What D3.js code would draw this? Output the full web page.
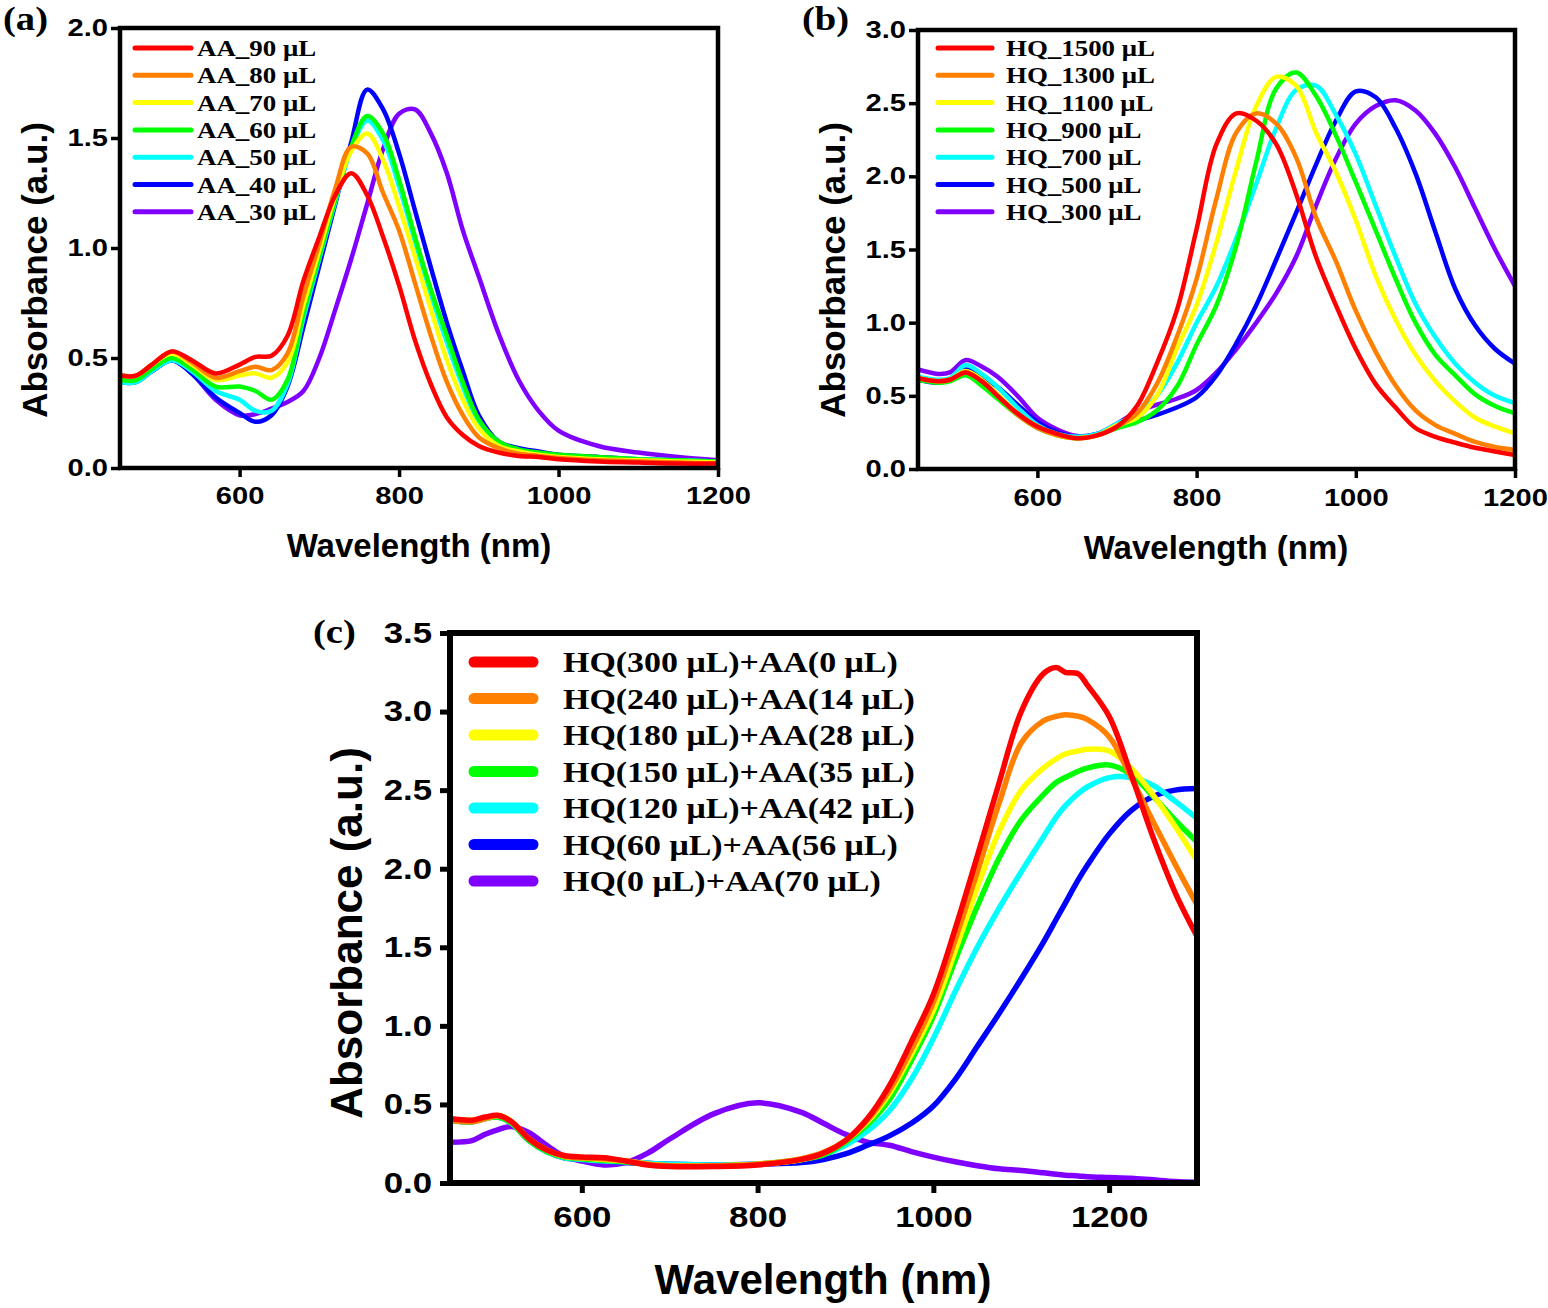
<!DOCTYPE html>
<html><head><meta charset="utf-8">
<script src="https://cdn.jsdelivr.net/npm/d3@7"></script>
<style>body{margin:0;background:#fff;} svg{display:block;background:#fff;}</style>
</head><body><svg id="fig" width="1548" height="1308"></svg>
<script>
// ---------- DATA ----------
const seriesColors = ["#ff0000","#ff8000","#ffff00","#00ff00","#00ffff","#0000ff","#8000ff"];

// Panel (a): AA series
const aWavelength = [450,470,490,515,540,570,600,620,640,660,680,700,720,740,760,780,800,820,840,860,880,900,925,950,975,1000,1050,1100,1150,1200];
const aLabels = ["AA_90 μL","AA_80 μL","AA_70 μL","AA_60 μL","AA_50 μL","AA_40 μL","AA_30 μL"];
const aAA90 = [0.42,0.42,0.47,0.53,0.49,0.43,0.47,0.505,0.51,0.60,0.85,1.05,1.24,1.34,1.24,1.05,0.83,0.58,0.38,0.23,0.15,0.10,0.07,0.055,0.05,0.04,0.03,0.025,0.02,0.02];
const aAA80 = [0.42,0.42,0.47,0.53,0.48,0.41,0.44,0.46,0.445,0.52,0.78,1.02,1.27,1.46,1.43,1.25,1.08,0.84,0.60,0.39,0.24,0.14,0.09,0.065,0.055,0.045,0.035,0.03,0.025,0.02];
const aAA70 = [0.42,0.42,0.47,0.52,0.47,0.40,0.42,0.43,0.41,0.48,0.74,0.99,1.24,1.44,1.52,1.40,1.19,0.96,0.72,0.49,0.31,0.18,0.10,0.075,0.06,0.05,0.04,0.035,0.03,0.025];
const aAA60 = [0.40,0.40,0.45,0.50,0.45,0.37,0.37,0.35,0.31,0.40,0.70,0.96,1.22,1.46,1.60,1.52,1.31,1.05,0.81,0.60,0.39,0.22,0.12,0.085,0.07,0.06,0.05,0.04,0.035,0.03];
const aAA50 = [0.39,0.39,0.44,0.49,0.44,0.35,0.31,0.26,0.26,0.38,0.68,0.95,1.21,1.45,1.58,1.49,1.28,1.03,0.79,0.57,0.37,0.21,0.11,0.08,0.065,0.055,0.045,0.04,0.035,0.03];
const aAA40 = [0.39,0.39,0.44,0.49,0.43,0.32,0.25,0.21,0.24,0.37,0.64,0.92,1.20,1.48,1.72,1.63,1.43,1.17,0.91,0.66,0.44,0.24,0.12,0.09,0.075,0.06,0.05,0.04,0.035,0.03];
const aAA30 = [0.40,0.40,0.44,0.49,0.43,0.31,0.24,0.245,0.27,0.30,0.35,0.50,0.72,0.95,1.20,1.45,1.61,1.63,1.52,1.34,1.08,0.87,0.61,0.40,0.26,0.17,0.10,0.07,0.05,0.035];
const aYTicks = [0,0.5,1.0,1.5,2.0];
const aXTicks = [600,800,1000,1200];

// Panel (b): HQ series
const bWavelength = [450,475,490,510,530,550,575,600,625,650,675,700,725,750,775,800,825,850,875,900,925,950,975,1000,1025,1050,1075,1100,1125,1150,1175,1200];
const bLabels = ["HQ_1500 μL","HQ_1300 μL","HQ_1100 μL","HQ_900 μL","HQ_700 μL","HQ_500 μL","HQ_300 μL"];
const bHQ1500 = [0.62,0.60,0.61,0.66,0.60,0.50,0.38,0.29,0.24,0.21,0.23,0.29,0.43,0.72,1.08,1.64,2.22,2.43,2.38,2.22,1.88,1.45,1.12,0.82,0.58,0.42,0.28,0.22,0.18,0.145,0.12,0.095];
const bHQ1300 = [0.62,0.60,0.61,0.66,0.60,0.50,0.37,0.28,0.23,0.21,0.23,0.29,0.38,0.58,0.90,1.30,1.85,2.30,2.43,2.36,2.13,1.72,1.42,1.08,0.80,0.57,0.40,0.30,0.24,0.185,0.15,0.13];
const bHQ1100 = [0.62,0.60,0.61,0.67,0.61,0.51,0.38,0.29,0.23,0.21,0.23,0.30,0.35,0.50,0.82,1.12,1.55,2.05,2.48,2.68,2.62,2.30,2.03,1.70,1.32,1.02,0.78,0.60,0.46,0.35,0.29,0.245];
const bHQ900 = [0.61,0.59,0.60,0.64,0.57,0.48,0.37,0.28,0.23,0.21,0.23,0.28,0.32,0.40,0.56,0.85,1.12,1.53,2.10,2.60,2.71,2.55,2.28,1.96,1.63,1.30,1.00,0.78,0.64,0.51,0.43,0.38];
const bHQ700 = [0.63,0.61,0.62,0.71,0.65,0.56,0.42,0.30,0.24,0.22,0.24,0.31,0.38,0.50,0.72,1.00,1.25,1.58,1.95,2.33,2.59,2.62,2.42,2.15,1.80,1.45,1.13,0.90,0.72,0.59,0.50,0.45];
const bHQ500 = [0.61,0.59,0.61,0.68,0.63,0.56,0.44,0.32,0.25,0.22,0.24,0.29,0.33,0.37,0.42,0.49,0.64,0.86,1.12,1.43,1.75,2.08,2.38,2.58,2.54,2.33,2.02,1.62,1.23,0.98,0.82,0.72];
const bHQ300 = [0.68,0.65,0.66,0.745,0.70,0.63,0.50,0.35,0.27,0.225,0.24,0.31,0.39,0.44,0.48,0.54,0.66,0.82,1.00,1.20,1.45,1.80,2.12,2.36,2.48,2.52,2.45,2.29,2.06,1.78,1.50,1.25];
const bYTicks = [0,0.5,1.0,1.5,2.0,2.5,3.0];
const bXTicks = [600,800,1000,1200];

// Panel (c): HQ + AA mixtures
const cWavelength = [450,475,490,505,520,540,560,580,600,625,650,675,700,750,800,850,875,900,925,950,975,1000,1025,1050,1075,1100,1125,1140,1150,1165,1175,1200,1225,1250,1275,1300];
const cLabels = ["HQ(300 μL)+AA(0 μL)","HQ(240 μL)+AA(14 μL)","HQ(180 μL)+AA(28 μL)","HQ(150 μL)+AA(35 μL)","HQ(120 μL)+AA(42 μL)","HQ(60 μL)+AA(56 μL)","HQ(0 μL)+AA(70 μL)"];
const cHQ300AA0 = [0.41,0.40,0.42,0.43,0.39,0.28,0.21,0.175,0.165,0.16,0.14,0.115,0.105,0.105,0.115,0.15,0.19,0.27,0.41,0.62,0.90,1.20,1.62,2.08,2.55,3.00,3.24,3.28,3.25,3.24,3.17,2.97,2.60,2.20,1.85,1.57];
const cHQ240AA14 = [0.40,0.39,0.41,0.43,0.39,0.28,0.21,0.17,0.16,0.155,0.14,0.12,0.11,0.11,0.12,0.155,0.195,0.27,0.40,0.59,0.85,1.15,1.55,1.98,2.42,2.80,2.94,2.97,2.98,2.97,2.95,2.84,2.58,2.30,2.03,1.77];
const cHQ180AA28 = [0.40,0.40,0.41,0.43,0.39,0.28,0.21,0.17,0.16,0.15,0.14,0.12,0.11,0.11,0.12,0.15,0.19,0.27,0.39,0.57,0.82,1.10,1.48,1.88,2.24,2.50,2.64,2.70,2.73,2.75,2.76,2.75,2.64,2.47,2.27,2.05];
const cHQ150AA35 = [0.40,0.39,0.41,0.42,0.38,0.27,0.20,0.165,0.155,0.145,0.135,0.12,0.11,0.11,0.12,0.15,0.18,0.26,0.37,0.53,0.78,1.06,1.42,1.76,2.07,2.31,2.47,2.55,2.58,2.62,2.64,2.66,2.60,2.46,2.31,2.17];
const cHQ120AA42 = [0.40,0.39,0.41,0.42,0.38,0.27,0.20,0.16,0.15,0.14,0.135,0.125,0.12,0.115,0.12,0.15,0.18,0.24,0.33,0.46,0.66,0.92,1.22,1.50,1.75,1.98,2.20,2.33,2.40,2.48,2.52,2.58,2.58,2.53,2.43,2.32];
const cHQ60AA56 = [0.40,0.39,0.41,0.42,0.38,0.27,0.20,0.16,0.15,0.14,0.13,0.125,0.12,0.115,0.12,0.13,0.15,0.185,0.24,0.30,0.38,0.49,0.66,0.87,1.08,1.30,1.53,1.68,1.78,1.93,2.02,2.22,2.37,2.46,2.50,2.51];
const cHQ0AA70 = [0.26,0.27,0.31,0.34,0.36,0.32,0.24,0.17,0.14,0.115,0.13,0.19,0.28,0.44,0.51,0.45,0.38,0.31,0.26,0.24,0.20,0.165,0.135,0.11,0.09,0.08,0.065,0.055,0.05,0.045,0.04,0.035,0.03,0.02,0.01,0.005];
const cYTicks = [0,0.5,1.0,1.5,2.0,2.5,3.0,3.5];
const cXTicks = [600,800,1000,1200];

// ---------- DRAWING ----------
const SANS = "'Liberation Sans', Arial, Helvetica, sans-serif";
const SERIF = "'Liberation Serif', 'Times New Roman', Times, serif";
const svg = d3.select("#fig");

function addText(parent, o) {
  return parent.append("text")
    .attr("transform", `translate(${o.x},${o.y}) rotate(${o.rotate||0}) scale(${o.sx||1},1)`)
    .attr("font-family", o.family).attr("font-weight", "bold")
    .attr("font-size", o.size).attr("text-anchor", o.anchor || "start")
    .attr("fill", "#000").text(o.text);
}

function drawPanel(p) {
  const g = svg.append("g");
  const x = d3.scaleLinear().domain(p.xDomain).range([p.left, p.right]);
  const y = d3.scaleLinear().domain(p.yDomain).range([p.bottom, p.top]);
  const clipId = "clip" + p.id;
  svg.append("clipPath").attr("id", clipId).append("rect")
    .attr("x", p.left).attr("y", p.top).attr("width", p.right - p.left).attr("height", p.bottom - p.top);

  // curves (purple first, red last)
  const line = d3.line().x(d => x(d[0])).y(d => y(d[1])).curve(d3.curveCatmullRom.alpha(0.5));
  const curves = g.append("g").attr("clip-path", `url(#${clipId})`);
  for (let i = p.series.length - 1; i >= 0; i--) {
    const pts = p.wavelength.map((w, k) => [w, p.series[i][k]]);
    curves.append("path").attr("d", line(pts)).attr("fill", "none")
      .attr("stroke", seriesColors[i]).attr("stroke-width", p.curveWidth)
      .attr("stroke-linejoin", "round").attr("stroke-linecap", "round");
  }

  // axes
  const fmt = d3.format(".1f");
  const xAxis = d3.axisBottom(x).tickValues(p.xTicks).tickSize(p.tickLen).tickPadding(p.xPad).tickFormat(d3.format("d"));
  const yAxis = d3.axisLeft(y).tickValues(p.yTicks).tickSize(p.tickLen).tickPadding(p.yPad).tickFormat(fmt);
  const gx = g.append("g").attr("transform", `translate(0,${p.bottom})`).call(xAxis);
  const gy = g.append("g").attr("transform", `translate(${p.left},0)`).call(yAxis);
  [gx, gy].forEach(ax => {
    ax.select(".domain").remove();
    ax.selectAll(".tick line").attr("stroke", "#000").attr("stroke-width", p.tickWidth);
    ax.selectAll(".tick text").each(function () {
      const t = d3.select(this);
      const tx = +t.attr("x") || 0, ty = +t.attr("y") || 0;
      t.attr("x", null).attr("y", null)
        .attr("transform", `translate(${tx},${ty}) scale(${p.tickSx},1)`)
        .attr("font-family", SANS).attr("font-weight", "bold")
        .attr("font-size", p.tickSize).attr("fill", "#000");
    });
  });

  // frame
  g.append("rect").attr("x", p.left).attr("y", p.top)
    .attr("width", p.right - p.left).attr("height", p.bottom - p.top)
    .attr("fill", "none").attr("stroke", "#000").attr("stroke-width", p.frameWidth);

  // axis titles
  addText(g, {x: p.xTitle[0], y: p.xTitle[1], text: "Wavelength (nm)", size: p.titleSize, family: SANS, anchor: "middle"});
  addText(g, {x: p.yTitle[0], y: p.yTitle[1], text: "Absorbance (a.u.)", size: p.yTitleSize, family: SANS, anchor: "middle", rotate: -90});
  // panel label
  addText(g, {x: p.tag[0], y: p.tag[1], text: p.tagText, size: p.tagSize, family: SERIF, sx: 1.17});

  // legend
  const lg = g.append("g");
  p.labels.forEach((lab, i) => {
    const yy = p.legend.y0 + i * p.legend.dy;
    lg.append("line").attr("x1", p.legend.x1).attr("x2", p.legend.x2).attr("y1", yy).attr("y2", yy)
      .attr("stroke", seriesColors[i]).attr("stroke-width", p.legend.w).attr("stroke-linecap", "round");
    addText(lg, {x: p.legend.tx, y: yy + p.legend.base, text: lab, size: p.legend.size, family: SERIF, sx: 1.17});
  });
}

drawPanel({
  id: "a", left: 120, right: 718, top: 28, bottom: 468,
  xDomain: [450, 1200], yDomain: [0, 2], xTicks: aXTicks, yTicks: aYTicks,
  wavelength: aWavelength, series: [aAA90, aAA80, aAA70, aAA60, aAA50, aAA40, aAA30], labels: aLabels,
  curveWidth: 4.5, frameWidth: 4.5, tickLen: 9, tickWidth: 3.5, xPad: 10, yPad: 3,
  tickSize: 23.5, tickSx: 1.24,
  titleSize: 33, yTitleSize: 35, xTitle: [419, 557], yTitle: [47, 270],
  tag: [3, 30], tagText: "(a)", tagSize: 33,
  legend: {x1: 135, x2: 191, tx: 197, y0: 48, dy: 27.3, w: 5, size: 23, base: 8}
});

drawPanel({
  id: "b", left: 918, right: 1515, top: 30, bottom: 469,
  xDomain: [450, 1200], yDomain: [0, 3], xTicks: bXTicks, yTicks: bYTicks,
  wavelength: bWavelength, series: [bHQ1500, bHQ1300, bHQ1100, bHQ900, bHQ700, bHQ500, bHQ300], labels: bLabels,
  curveWidth: 4.5, frameWidth: 4.5, tickLen: 9, tickWidth: 3.5, xPad: 11, yPad: 3,
  tickSize: 23.5, tickSx: 1.24,
  titleSize: 33, yTitleSize: 35, xTitle: [1216, 559], yTitle: [845, 270],
  tag: [802, 30], tagText: "(b)", tagSize: 33,
  legend: {x1: 938, x2: 992, tx: 1006, y0: 48, dy: 27.3, w: 5, size: 23, base: 8}
});

drawPanel({
  id: "c", left: 450, right: 1197, top: 633, bottom: 1183,
  xDomain: [450, 1300], yDomain: [0, 3.5], xTicks: cXTicks, yTicks: cYTicks,
  wavelength: cWavelength, series: [cHQ300AA0, cHQ240AA14, cHQ180AA28, cHQ150AA35, cHQ120AA42, cHQ60AA56, cHQ0AA70], labels: cLabels,
  curveWidth: 5.5, frameWidth: 6, tickLen: 10, tickWidth: 5, xPad: 13, yPad: 8,
  tickSize: 29, tickSx: 1.2,
  titleSize: 42, yTitleSize: 44, xTitle: [823, 1294], yTitle: [362, 933],
  tag: [313, 643], tagText: "(c)", tagSize: 33,
  legend: {x1: 474, x2: 533, tx: 563, y0: 662, dy: 36.5, w: 11, size: 29, base: 10}
});
</script>
</body></html>
